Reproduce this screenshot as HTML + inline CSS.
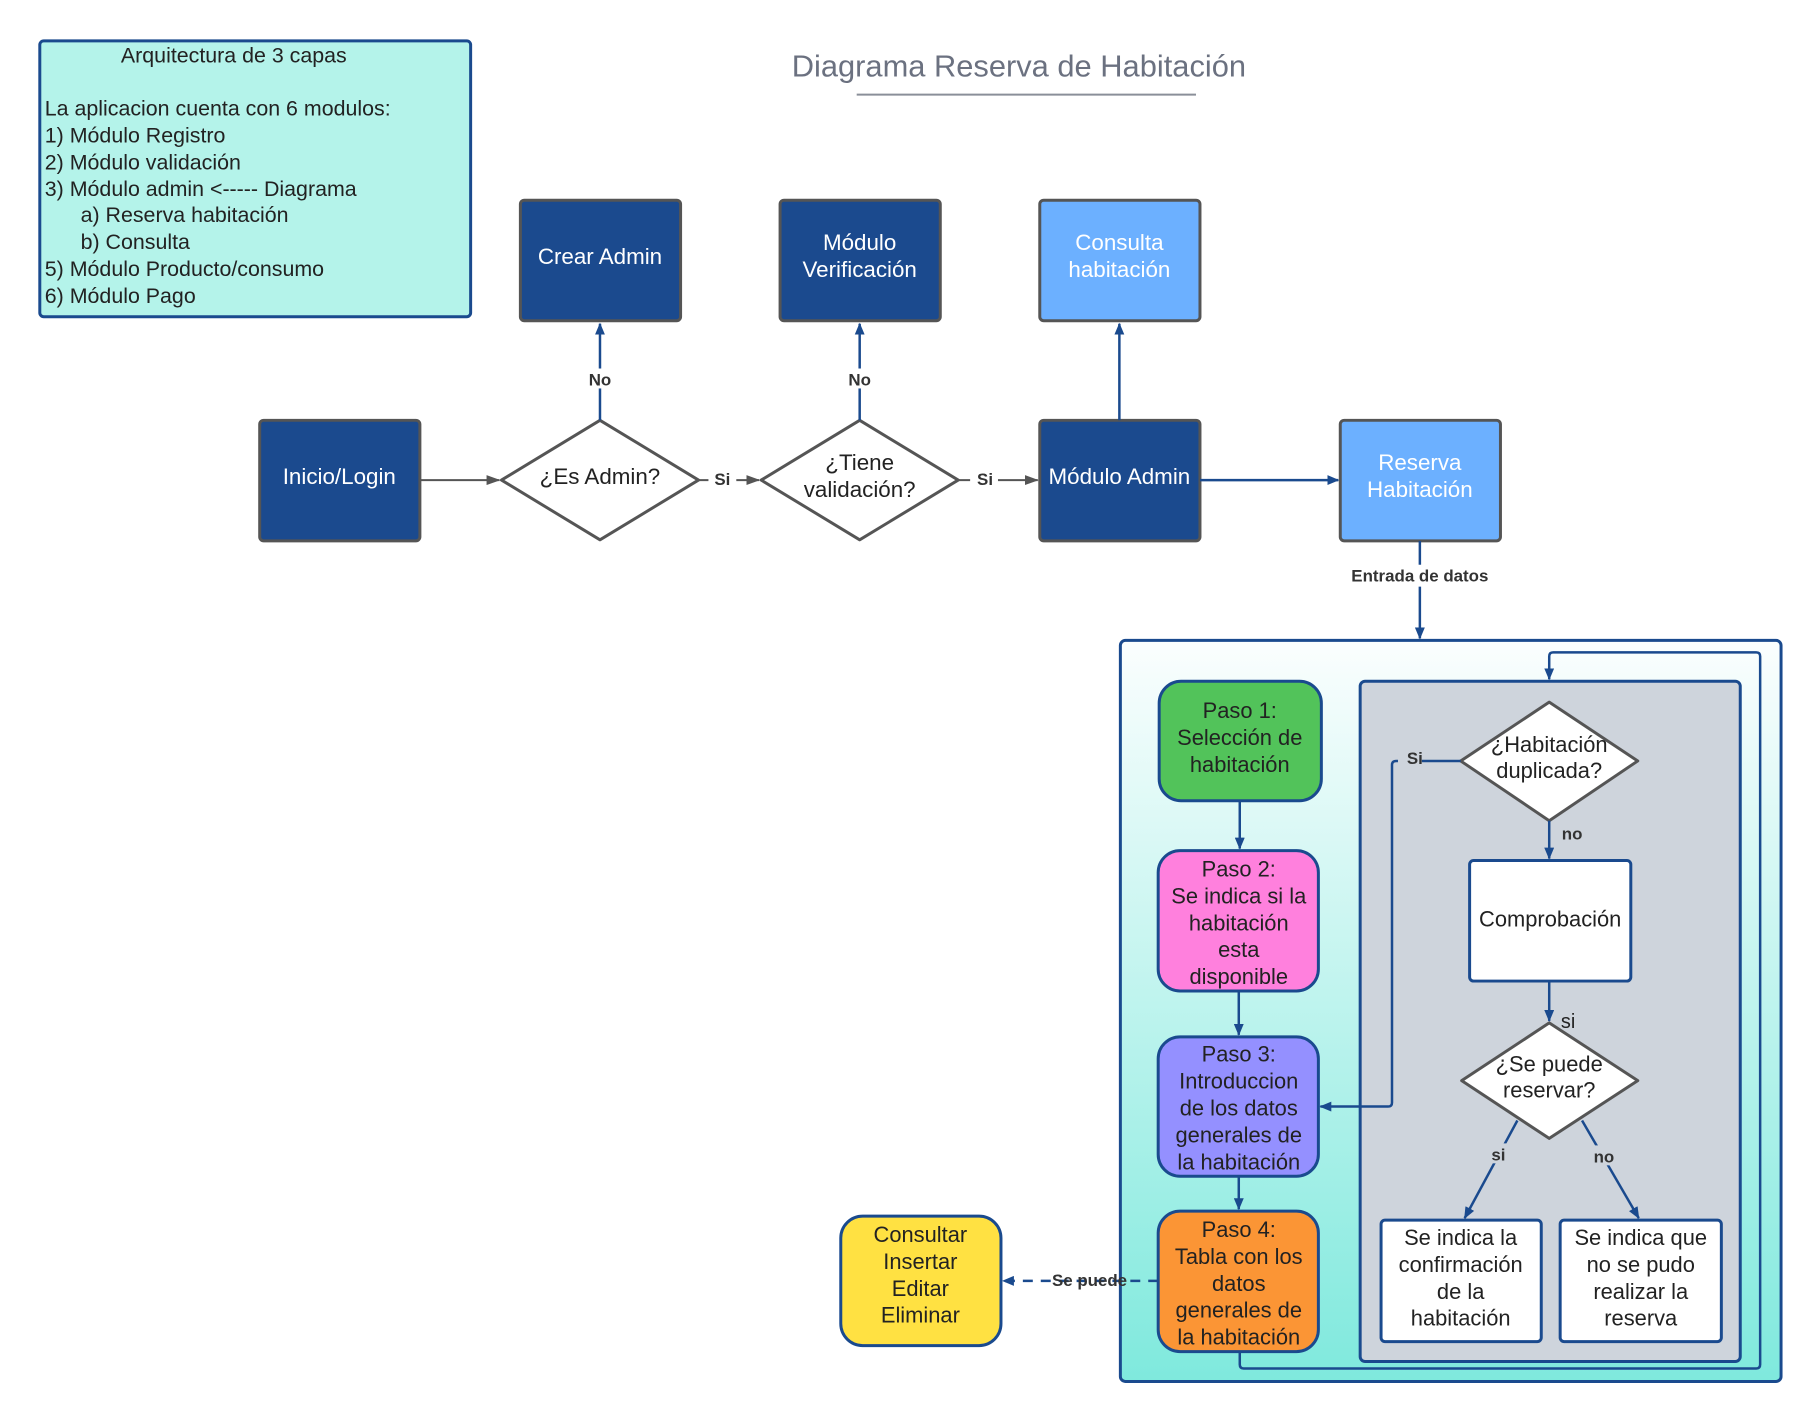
<!DOCTYPE html>
<html><head><meta charset="utf-8"><style>
html,body{margin:0;padding:0;background:#fff}
svg{display:block}
text{font-family:"Liberation Sans",sans-serif}
</style></head><body>
<svg width="1820" height="1420" viewBox="0 0 1820 1420" xmlns="http://www.w3.org/2000/svg">
<defs>
<marker id="ab" markerWidth="12" markerHeight="10" refX="11" refY="5" orient="auto" markerUnits="userSpaceOnUse"><path d="M0,0 L12,5 L0,10 Z" fill="#1a4a8e"/></marker>
<marker id="ag" markerWidth="14" markerHeight="10" refX="13" refY="5" orient="auto" markerUnits="userSpaceOnUse"><path d="M0,0 L14,5 L0,10 Z" fill="#555"/></marker>
<linearGradient id="gr" x1="0" y1="0" x2="0" y2="1"><stop offset="0" stop-color="#fbfefe"/><stop offset="1" stop-color="#7fe9dd"/></linearGradient>
</defs>
<g transform="scale(0.995,0.996)">
<!-- legend -->
<rect x="40" y="41" width="433" height="277" rx="4" fill="#b4f3ea" stroke="#1a4a8e" stroke-width="3"/>
<g font-size="21.5" fill="#222">
<text x="235" y="63" text-anchor="middle">Arquitectura de 3 capas</text>
<text x="45" y="116">La aplicacion cuenta con 6 modulos:</text>
<text x="45" y="143">1) Módulo Registro</text>
<text x="45" y="170">2) Módulo validación</text>
<text x="45" y="197">3) Módulo admin &lt;----- Diagrama</text>
<text x="81" y="223">a) Reserva habitación</text>
<text x="81" y="250">b) Consulta</text>
<text x="45" y="277">5) Módulo Producto/consumo</text>
<text x="45" y="304">6) Módulo Pago</text>
</g>

<!-- title -->
<text x="1024" y="77" text-anchor="middle" font-size="31" fill="#6b7180">Diagrama Reserva de Habitación</text>
<line x1="861" y1="95" x2="1202" y2="95" stroke="#8a8f99" stroke-width="2"/>

<!-- top boxes -->
<g stroke="#555" stroke-width="3">
<rect x="523" y="201" width="161" height="121" rx="4" fill="#1b4a8e"/>
<rect x="784" y="201" width="161" height="121" rx="4" fill="#1b4a8e"/>
<rect x="1045" y="201" width="161" height="121" rx="4" fill="#6cb0ff"/>
<rect x="261" y="422" width="161" height="121" rx="4" fill="#1b4a8e"/>
<rect x="1045" y="422" width="161" height="121" rx="4" fill="#1b4a8e"/>
<rect x="1347" y="422" width="161" height="121" rx="4" fill="#6cb0ff"/>
<polygon points="504,482 603,422 702,482 603,542" fill="#fff" stroke-linejoin="round"/>
<polygon points="765,482 864,422 963,482 864,542" fill="#fff" stroke-linejoin="round"/>
</g>
<g font-size="22.5" fill="#fff" text-anchor="middle">
<text x="603" y="265">Crear Admin</text>
<text x="864" y="251">Módulo</text><text x="864" y="278">Verificación</text>
<text x="1125" y="251">Consulta</text><text x="1125" y="278">habitación</text>
<text x="341" y="486">Inicio/Login</text>
<text x="1125" y="486">Módulo Admin</text>
<text x="1427" y="472">Reserva</text><text x="1427" y="499">Habitación</text>
</g>
<g font-size="22.5" fill="#222" text-anchor="middle">
<text x="603" y="486">¿Es Admin?</text>
<text x="864" y="472">¿Tiene</text><text x="864" y="499">validación?</text>
</g>

<!-- top connectors -->
<line x1="422" y1="482" x2="502" y2="482" stroke="#555" stroke-width="2" marker-end="url(#ag)"/>
<line x1="702" y1="482" x2="763" y2="482" stroke="#555" stroke-width="2" marker-end="url(#ag)"/>
<line x1="963" y1="482" x2="1043" y2="482" stroke="#555" stroke-width="2" marker-end="url(#ag)"/>
<rect x="712" y="470" width="28" height="20" fill="#fff"/>
<rect x="975" y="470" width="28" height="20" fill="#fff"/>
<g font-size="17" font-weight="bold" fill="#333" text-anchor="middle">
<text x="726" y="487">Si</text><text x="990" y="487">Si</text>
</g>
<g stroke="#1a4a8e" stroke-width="2.5" fill="none">
<line x1="603" y1="422" x2="603" y2="325" marker-end="url(#ab)"/>
<line x1="864" y1="422" x2="864" y2="325" marker-end="url(#ab)"/>
<line x1="1125" y1="422" x2="1125" y2="325" marker-end="url(#ab)"/>
<line x1="1206" y1="482" x2="1345" y2="482" marker-end="url(#ab)"/>
<line x1="1427" y1="543" x2="1427" y2="641" marker-end="url(#ab)"/>
</g>
<rect x="586" y="370" width="34" height="20" fill="#fff"/>
<rect x="847" y="370" width="34" height="20" fill="#fff"/>
<rect x="1352" y="567" width="150" height="22" fill="#fff"/>
<g font-size="17" font-weight="bold" fill="#333" text-anchor="middle">
<text x="603" y="387">No</text><text x="864" y="387">No</text>
<text x="1427" y="584">Entrada de datos</text>
</g>

<!-- container -->
<rect x="1126" y="643" width="664" height="744" rx="5" fill="url(#gr)" stroke="#1a4a8e" stroke-width="3"/>
<rect x="1367" y="684" width="382" height="683" rx="5" fill="#ced4dc" stroke="#1a4a8e" stroke-width="3"/>

<!-- steps -->
<g stroke="#1a4a8e" stroke-width="3">
<rect x="1165" y="684" width="163" height="120" rx="22" fill="#52c35a"/>
<rect x="1164" y="854" width="161" height="141" rx="22" fill="#ff80dd"/>
<rect x="1164" y="1041" width="161" height="140" rx="22" fill="#9490ff"/>
<rect x="1164" y="1216" width="161" height="141" rx="22" fill="#fb9535"/>
<rect x="845" y="1221" width="161" height="130" rx="22" fill="#ffe142"/>
<rect x="1477" y="864" width="162" height="121" rx="4" fill="#fff"/>
<rect x="1388" y="1225" width="161" height="122" rx="4" fill="#fff"/>
<rect x="1568" y="1225" width="162" height="122" rx="4" fill="#fff"/>
</g>
<g stroke="#555" stroke-width="3" fill="#fff" stroke-linejoin="round">
<polygon points="1468,764 1557,705 1646,764 1557,824"/>
<polygon points="1469,1085 1557,1027 1646,1085 1557,1143"/>
</g>
<g font-size="22" fill="#222" text-anchor="middle">
<text x="1246" y="721">Paso 1:</text><text x="1246" y="748">Selección de</text><text x="1246" y="775">habitación</text>
<text x="1245" y="880">Paso 2:</text><text x="1245" y="907">Se indica si la</text><text x="1245" y="934">habitación</text><text x="1245" y="961">esta</text><text x="1245" y="988">disponible</text>
<text x="1245" y="1066">Paso 3:</text><text x="1245" y="1093">Introduccion</text><text x="1245" y="1120">de los datos</text><text x="1245" y="1147">generales de</text><text x="1245" y="1174">la habitación</text>
<text x="1245" y="1242">Paso 4:</text><text x="1245" y="1269">Tabla con los</text><text x="1245" y="1296">datos</text><text x="1245" y="1323">generales de</text><text x="1245" y="1350">la habitación</text>
<text x="925" y="1247">Consultar</text><text x="925" y="1274">Insertar</text><text x="925" y="1301">Editar</text><text x="925" y="1328">Eliminar</text>
<text x="1557" y="755">¿Habitación</text><text x="1557" y="781">duplicada?</text>
<text x="1558" y="930">Comprobación</text>
<text x="1557" y="1076">¿Se puede</text><text x="1557" y="1102">reservar?</text>
<text x="1468" y="1250">Se indica la</text><text x="1468" y="1277">confirmación</text><text x="1468" y="1304">de la</text><text x="1468" y="1331">habitación</text>
<text x="1649" y="1250">Se indica que</text><text x="1649" y="1277">no se pudo</text><text x="1649" y="1304">realizar la</text><text x="1649" y="1331">reserva</text>
</g>

<!-- inner connectors -->
<g stroke="#1a4a8e" stroke-width="2.5" fill="none">
<line x1="1246" y1="804" x2="1246" y2="852" marker-end="url(#ab)"/>
<line x1="1245" y1="995" x2="1245" y2="1039" marker-end="url(#ab)"/>
<line x1="1245" y1="1181" x2="1245" y2="1214" marker-end="url(#ab)"/>
<line x1="1557" y1="824" x2="1557" y2="862" marker-end="url(#ab)"/>
<line x1="1557" y1="985" x2="1557" y2="1025" marker-end="url(#ab)"/>
<line x1="1525" y1="1125" x2="1472" y2="1223" marker-end="url(#ab)"/>
<line x1="1590" y1="1125" x2="1647" y2="1223" marker-end="url(#ab)"/>
<path d="M1468,764 L1403,764 Q1399,764 1399,768 L1399,1107 Q1399,1111 1395,1111 L1327,1111" marker-end="url(#ab)"/>
<path d="M1246,1357 L1246,1370 Q1246,1374 1250,1374 L1765,1374 Q1769,1374 1769,1370 L1769,659 Q1769,655 1765,655 L1561,655 Q1557,655 1557,659 L1557,682" marker-end="url(#ab)"/>
<path d="M1164,1286 L1008,1286" stroke-dasharray="10,8" marker-end="url(#ab)"/>
</g>
<rect x="1405" y="747" width="24" height="20" fill="#ced4dc"/>
<rect x="1494" y="1148" width="24" height="20" fill="#ced4dc"/>
<rect x="1596" y="1150" width="28" height="20" fill="#ced4dc"/>
<g font-size="17" font-weight="bold" fill="#333" text-anchor="middle">
<text x="1422" y="767">Si</text>
<text x="1580" y="843">no</text>
<text x="1506" y="1165">si</text>
<text x="1612" y="1167">no</text>
<text x="1095" y="1291">Se puede</text>
</g>
<text x="1576" y="1032" font-size="20" fill="#222" text-anchor="middle">si</text>
</g>
</svg>
</body></html>
